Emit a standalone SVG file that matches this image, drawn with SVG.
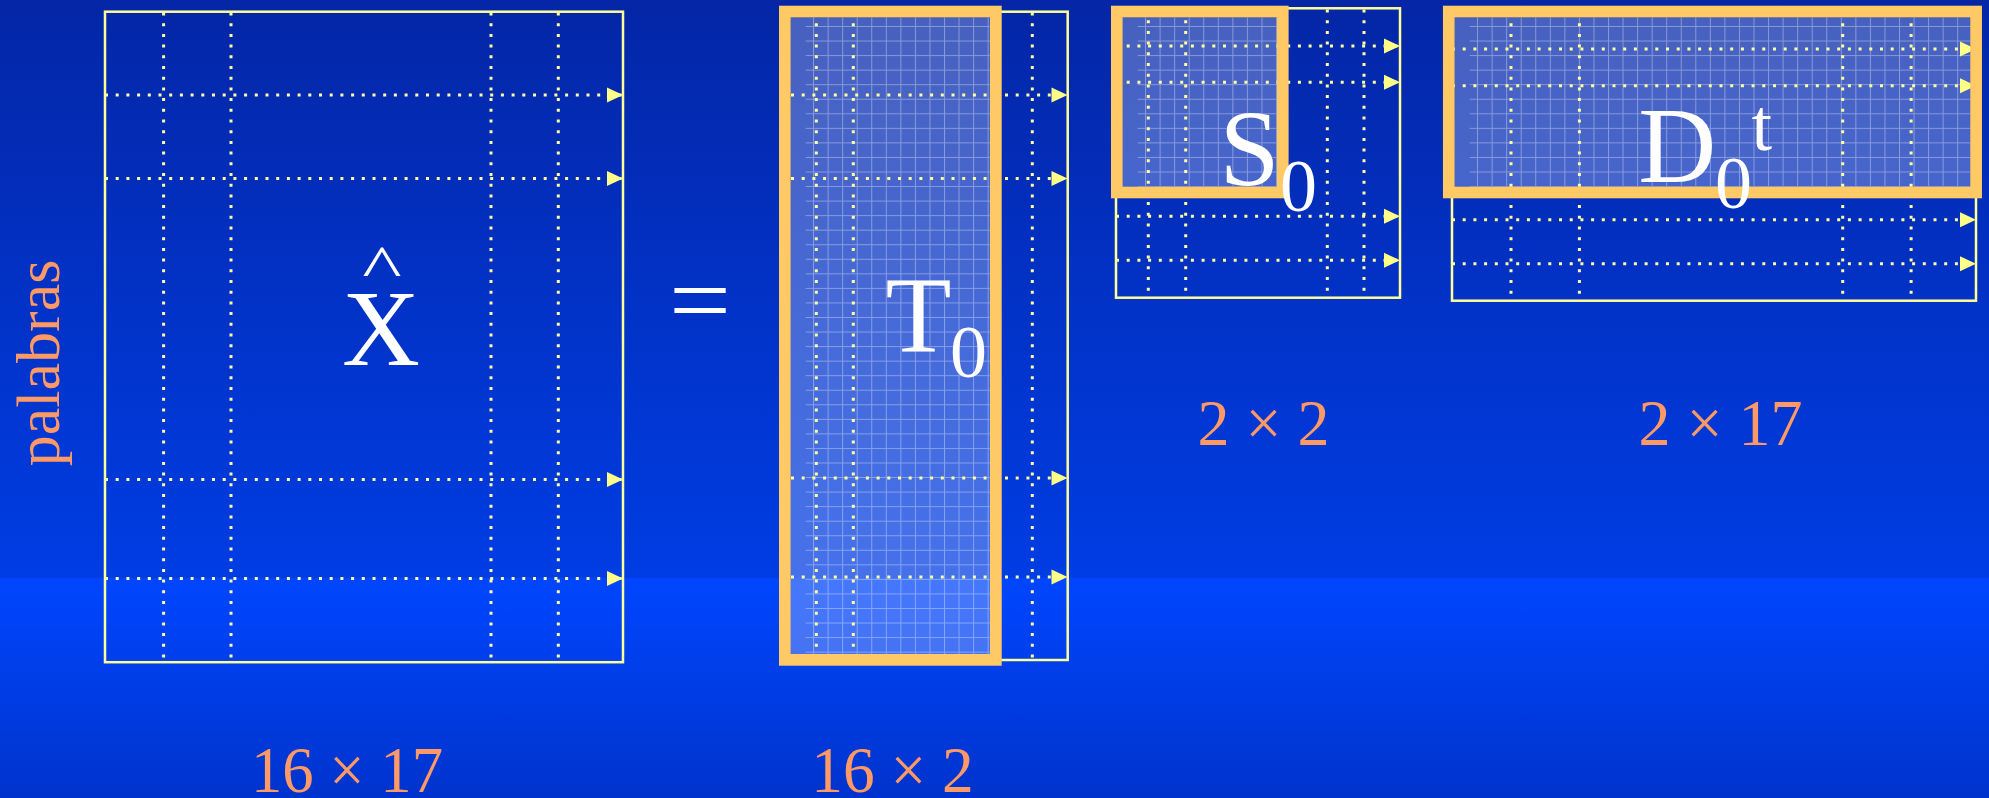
<svg xmlns="http://www.w3.org/2000/svg" width="1989" height="798" viewBox="0 0 1989 798">
  <defs>
    <linearGradient id="bgTop" x1="0" y1="0" x2="0" y2="1">
      <stop offset="0" stop-color="#0426a6"/>
      <stop offset="1" stop-color="#003de4"/>
    </linearGradient>
    <linearGradient id="bgBot" x1="0" y1="0" x2="0" y2="1">
      <stop offset="0" stop-color="#0046ff"/>
      <stop offset="1" stop-color="#0033cc"/>
    </linearGradient>
    <pattern id="grid" x="7.8" y="8.6" width="14.55" height="14.55" patternUnits="userSpaceOnUse">
      <path d="M0.5 0 V14.55 M0 0.5 H14.55" stroke="#ffffff" stroke-opacity="0.35" stroke-width="1" fill="none"/>
    </pattern>
    <marker id="arr" markerUnits="userSpaceOnUse" markerWidth="16" markerHeight="15" refX="16" refY="7.5" orient="auto" overflow="visible">
      <path d="M0 0 L16 7.5 L0 15 Z" fill="#ffff88"/>
    </marker>
    <style>
      .box { fill: none; stroke: #ffff99; stroke-width: 2.5; }
      .dot { fill: none; stroke: #ffffa0; stroke-width: 3; stroke-dasharray: 3 7.7; }
      .arrow { marker-end: url(#arr); }
      .shade { fill: #ffffff; fill-opacity: 0.27; }
      .gridfill { fill: url(#grid); }
      .frame { fill: none; stroke: #ffc966; stroke-width: 11.7; }
      .big { font-family: "Liberation Serif", "Times New Roman", serif; fill: #ffffff; }
      .dim { font-family: "Liberation Serif", "Times New Roman", serif; fill: #ff9966; font-size: 66px; text-anchor: middle; }
    </style>
  </defs>

  <!-- background -->
  <rect x="0" y="0" width="1989" height="578" fill="url(#bgTop)"/>
  <rect x="0" y="578" width="1989" height="220" fill="url(#bgBot)"/>

  <!-- side label -->
  <text id="label-palabras" transform="translate(59,363) rotate(-90)" font-family="'Liberation Serif', 'Times New Roman', serif" font-size="62" fill="#ff9966" text-anchor="middle">palabras</text>

  <!-- X hat matrix -->
  <g id="node-xhat">
    <rect class="box" x="105" y="11.7" width="518" height="650.5"/>
    <path class="dot arrow" d="M105 95 H623"/>
    <path class="dot arrow" d="M105 178.5 H623"/>
    <path class="dot arrow" d="M105 479.5 H623"/>
    <path class="dot arrow" d="M105 578.5 H623"/>
    <path class="dot" d="M163.6 12.5 V662"/>
    <path class="dot" d="M231 12.5 V662"/>
    <path class="dot" d="M491 12.5 V662"/>
    <path class="dot" d="M558.3 12.5 V662"/>
    <text class="big" transform="translate(382,287.5) scale(1,0.74)" x="0" y="0" font-size="84" text-anchor="middle">^</text>
    <text class="big" x="381" y="365" font-size="108" text-anchor="middle">X</text>
  </g>

  <!-- equals -->
  <g id="node-equals">
    <text class="big" transform="translate(700,301) scale(1,0.91)" x="0" y="36.2" font-size="110" text-anchor="middle">=</text>
  </g>

  <!-- T0 matrix -->
  <g id="node-t0">
    <rect class="box" x="785" y="11.7" width="282.7" height="648.3"/>
    <g transform="translate(790.7,17.4)">
      <rect class="shade" x="0" y="0" width="199.3" height="636.6"/>
      <rect class="gridfill" x="15" y="0" width="184.3" height="636.6"/>
    </g>
    <path class="dot arrow" d="M791 95 H1067.5"/>
    <path class="dot arrow" d="M791 178.5 H1067.5"/>
    <path class="dot arrow" d="M791 478 H1067.5"/>
    <path class="dot arrow" d="M791 577 H1067.5"/>
    <path class="dot" d="M816.3 12.5 V660"/>
    <path class="dot" d="M853.3 12.5 V660"/>
    <path class="dot" d="M1032.3 12.5 V660"/>
    <rect class="frame" x="784.85" y="11.55" width="211" height="648.3"/>
    <text class="big" font-size="108"><tspan x="885.5" y="350.7">T</tspan><tspan x="949.9" y="377.3" font-size="74">0</tspan></text>
  </g>

  <!-- S0 matrix -->
  <g id="node-s0">
    <rect class="box" x="1116" y="8.3" width="284" height="289.4"/>
    <g transform="translate(1122.7,17.4)">
      <rect class="shade" x="0" y="0" width="154.3" height="169.3"/>
      <rect class="gridfill" x="15" y="0" width="139.3" height="169.3"/>
    </g>
    <path class="dot arrow" d="M1116 46 H1400"/>
    <path class="dot arrow" d="M1116 82.3 H1400"/>
    <path class="dot arrow" d="M1116 216.3 H1400"/>
    <path class="dot arrow" d="M1116 260.3 H1400"/>
    <path class="dot" d="M1148.3 9.5 V297"/>
    <path class="dot" d="M1185.7 9.5 V297"/>
    <path class="dot" d="M1327.3 9.5 V297"/>
    <path class="dot" d="M1364 9.5 V297"/>
    <rect class="frame" x="1116.85" y="11.55" width="165.9" height="180.9"/>
    <text class="big" font-size="108"><tspan x="1219.5" y="185.3">S</tspan><tspan x="1279.9" y="211.3" font-size="74">0</tspan></text>
  </g>

  <!-- D0t matrix -->
  <g id="node-d0t">
    <rect class="box" x="1452" y="11.7" width="524" height="289"/>
    <g transform="translate(1454.7,17.4)">
      <rect class="shade" x="0" y="0" width="515.9" height="169.3"/>
      <rect class="gridfill" x="15" y="0" width="500.9" height="169.3"/>
    </g>
    <path class="dot arrow" d="M1452 49 H1976"/>
    <path class="dot arrow" d="M1452 85.7 H1976"/>
    <path class="dot arrow" d="M1452 219.7 H1976"/>
    <path class="dot arrow" d="M1452 263.7 H1976"/>
    <path class="dot" d="M1511 12.5 V300"/>
    <path class="dot" d="M1579.4 12.5 V300"/>
    <path class="dot" d="M1842.7 12.5 V300"/>
    <path class="dot" d="M1911.1 12.5 V300"/>
    <rect class="frame" x="1448.8" y="11.55" width="527.3" height="180.9"/>
    <text class="big" font-size="108"><tspan x="1638.3" y="181.5">D</tspan><tspan x="1714.9" y="208.3" font-size="74">0</tspan><tspan x="1751.6" y="150" font-size="74">t</tspan></text>
  </g>

  <g id="connectors"/>

  <!-- dimension labels -->
  <g id="dims">
    <text class="dim" transform="translate(347,792) scale(0.95,1)">16 × 17</text>
    <text class="dim" transform="translate(892.5,792) scale(0.96,1)">16 × 2</text>
    <text class="dim" transform="translate(1263.5,445) scale(0.97,1)">2 × 2</text>
    <text class="dim" transform="translate(1720.5,445) scale(0.97,1)">2 × 17</text>
  </g>
</svg>
